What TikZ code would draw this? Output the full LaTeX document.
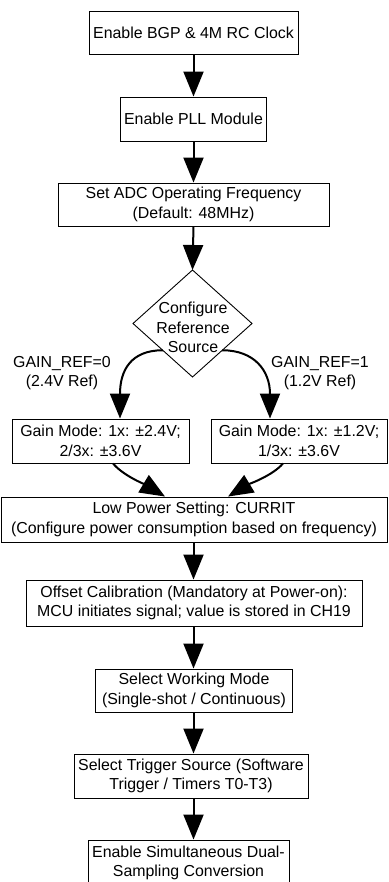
\documentclass[tikz,border=0pt]{standalone}
\usepackage{fontspec}
\setmainfont{Liberation Sans}
\usetikzlibrary{arrows.meta,shapes.geometric,calc}
\begin{document}
\begin{tikzpicture}[x=1pt,y=-1pt,
  box/.style={draw, line width=0.9pt, inner sep=1pt, align=center, font=\fontsize{15.9}{19.5}\selectfont, anchor=center},
  arr/.style={line width=2pt, -{Triangle[width=20pt,length=25pt]}},
  lbl/.style={align=center, font=\fontsize{15.9}{19.5}\selectfont, inner sep=0pt}]
\useasboundingbox[fill=white] (0,0) rectangle (388,882);
\node[box, minimum width=209pt, minimum height=43pt] (b1) at (193.5,32.5) {Enable BGP \& 4M RC Clock};
\node[box, minimum width=146pt, minimum height=44pt] (b2) at (193.5,119) {Enable PLL Module};
\node[box, minimum width=271pt, minimum height=43pt] (b3) at (193.5,204.5) {Set ADC Operating Frequency\\(Default: 48MHz)};
\node[diamond, draw, line width=0.9pt, inner sep=0pt, outer sep=0pt, minimum width=119pt, minimum height=107pt] (ref) at (192.5,323.5) {};
\node[lbl] (reft) at (193,327.5) {Configure\\Reference\\Source};
\node[lbl] (l0) at (62,373) {GAIN\_REF=0\\(2.4V Ref)};
\node[lbl] (l1) at (320,373) {GAIN\_REF=1\\(1.2V Ref)};
\node[box, minimum width=177pt, minimum height=44pt] (gL) at (100.5,441) {Gain Mode: 1x: ±2.4V;\\2/3x: ±3.6V};
\node[box, minimum width=176pt, minimum height=44pt] (gR) at (299,441) {Gain Mode: 1x: ±1.2V;\\1/3x: ±3.6V};
\node[box, minimum width=386pt, minimum height=45pt] (lp) at (194,519.5) {Low Power Setting: CURRIT\\(Configure power consumption based on frequency)};
\node[box, minimum width=336pt, minimum height=46pt] (off) at (194,603) {Offset Calibration (Mandatory at Power-on):\\MCU initiates signal; value is stored in CH19};
\node[box, minimum width=197pt, minimum height=43pt] (wm) at (194,690.5) {Select Working Mode\\(Single-shot / Continuous)};
\node[box, minimum width=234pt, minimum height=44pt] (tr) at (191,776) {Select Trigger Source (Software\\Trigger / Timers T0-T3)};
\node[box, minimum width=201pt, minimum height=46pt] (fin) at (188.5,863) {Enable Simultaneous Dual-\\Sampling Conversion};
\draw[arr] (b1.south) -- (b2.north);
\draw[arr] (b2.south) -- (b3.north);
\draw[arr] (b3.south) -- (ref.north);
\draw[arr] (ref.south west) .. controls +(-32,0) and +(0,-48) .. ($(gL.north)+(19.5,0)$);
\draw[arr] (ref.south east) .. controls +(32,0) and +(0,-48) .. ($(gR.north)+(-29,0)$);
\draw[arr] ($(gL.south)+(12.5,0)$) .. controls +(10,12) and +(-20,-12) .. ($(lp.north)+(-29,0)$);
\draw[arr] ($(gR.south)+(-16,0)$) .. controls +(-10,12) and +(20,-12) .. ($(lp.north)+(34,0)$);
\draw[arr] (lp.south -| b1.south) -- (off.north -| b1.south);
\draw[arr] (off.south -| b1.south) -- (wm.north -| b1.south);
\draw[arr] (wm.south -| b1.south) -- (tr.north -| b1.south);
\draw[arr] (tr.south -| b1.south) -- (fin.north -| b1.south);
\end{tikzpicture}
\end{document}
